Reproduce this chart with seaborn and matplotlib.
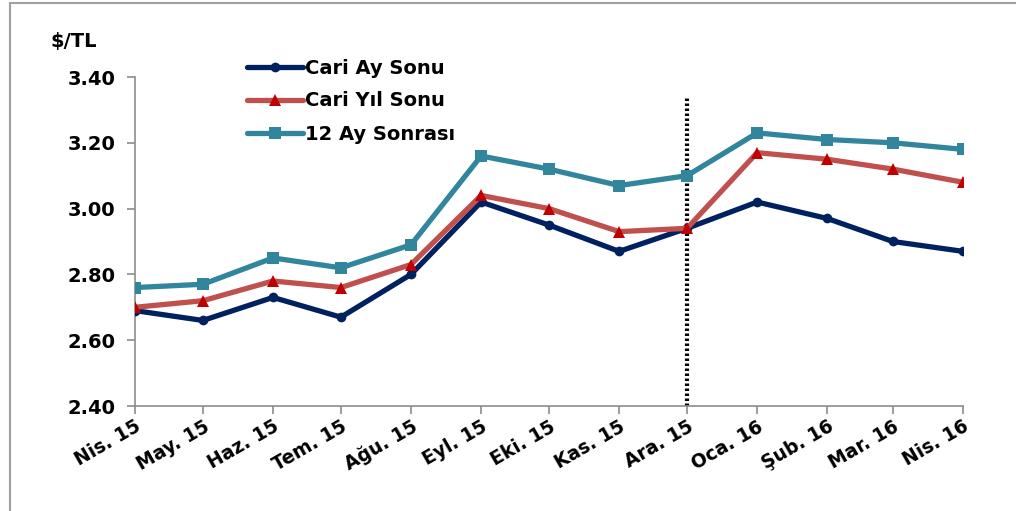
import pandas as pd
import seaborn as sns
import matplotlib.pyplot as plt
from matplotlib.patches import Rectangle


sns.set_style('white')
plt.rcParams['font.family'] = ['DejaVu Sans']
plt.rcParams['font.weight'] = 'bold'
plt.rcParams['text.color'] = 'black'
plt.rcParams['xtick.color'] = 'black'
plt.rcParams['ytick.color'] = 'black'

dates = ['2015-04-01', '2015-05-01', '2015-06-01', '2015-07-01', '2015-08-01',
         '2015-09-01', '2015-10-01', '2015-11-01', '2015-12-01', '2016-01-01',
         '2016-02-01', '2016-03-01', '2016-04-01']
labels = ['Nis. 15', 'May. 15', 'Haz. 15', 'Tem. 15', 'Ağu. 15', 'Eyl. 15',
          'Eki. 15', 'Kas. 15', 'Ara. 15', 'Oca. 16', 'Şub. 16', 'Mar. 16',
          'Nis. 16']
cari_ay = [2.69, 2.66, 2.73, 2.67, 2.80, 3.02, 2.95, 2.87, 2.94, 3.02, 2.97, 2.90, 2.87]
cari_yil = [2.70, 2.72, 2.78, 2.76, 2.83, 3.04, 3.00, 2.93, 2.94, 3.17, 3.15, 3.12, 3.08]
ay12 = [2.76, 2.77, 2.85, 2.82, 2.89, 3.16, 3.12, 3.07, 3.10, 3.23, 3.21, 3.20, 3.18]
yticks = [2.40, 2.60, 2.80, 3.00, 3.20, 3.40]

df = pd.DataFrame({'tarih': pd.to_datetime(dates), 'Cari Ay Sonu': cari_ay,
                   'Cari Yıl Sonu': cari_yil, '12 Ay Sonrası': ay12})

fig = plt.figure(figsize=(10.16, 5.11), dpi=100)
ax = fig.add_axes([135 / 1016, 1 - 406 / 511, 828 / 1016, 329 / 511])

# vertical dotted marker at Ara. 15
ax.plot([df['tarih'][8]] * 2, [2.40, 3.34], color='black', lw=3,
        linestyle=(0, (0.6, 0.6)), zorder=1)

sns.lineplot(data=df, x='tarih', y='Cari Ay Sonu', ax=ax, color='#00215F',
             lw=3.8, marker='o', markersize=7, markeredgewidth=0,
             label='Cari Ay Sonu', zorder=3)
sns.lineplot(data=df, x='tarih', y='Cari Yıl Sonu', ax=ax, color='#C0504D',
             lw=3.8, marker='^', markersize=8, markerfacecolor='#C00000',
             markeredgewidth=0, label='Cari Yıl Sonu', zorder=4)
sns.lineplot(data=df, x='tarih', y='12 Ay Sonrası', ax=ax, color='#31859C',
             lw=3.8, marker='s', markersize=8.5, markeredgewidth=0,
             label='12 Ay Sonrası', zorder=5)

ax.set_xlim(df['tarih'].iloc[0], df['tarih'].iloc[-1])
ax.set_ylim(2.40, 3.40)
ax.set_yticks(yticks)
ax.set_yticklabels([f'{v:.2f}' for v in yticks], fontsize=14, fontweight='bold')
ax.set_xticks(df['tarih'])
ax.set_xticklabels(labels, rotation=30, ha='right', rotation_mode='anchor',
                   fontsize=13.5, fontweight='bold')
ax.set_xlabel('')
ax.set_ylabel('')

for s in ['top', 'right']:
    ax.spines[s].set_visible(False)
for s in ['left', 'bottom']:
    ax.spines[s].set_color('#8C8C8C')
    ax.spines[s].set_linewidth(1.2)
ax.tick_params(axis='both', direction='out', length=6, width=1.2,
               color='#8C8C8C', bottom=True, left=True)
ax.tick_params(axis='y', pad=8)
ax.tick_params(axis='x', pad=2)

fig.text(50 / 1016, 1 - 42 / 511, '$/TL', fontsize=14, fontweight='bold',
         va='center')

ax.legend(loc='upper left', bbox_to_anchor=(229 / 1016, 1 - 41 / 511),
          bbox_transform=fig.transFigure, frameon=False,
          handlelength=2.9, labelspacing=0.72, handletextpad=0.1,
          prop={'weight': 'bold', 'size': 14})

fig.patches.append(Rectangle((10 / 1016, -0.1), 1.2, 1 - 3 / 511 + 0.1,
                             transform=fig.transFigure, fill=False,
                             edgecolor='#A0A0A0', lw=1.5))

fig.savefig('out.png', dpi=100)
